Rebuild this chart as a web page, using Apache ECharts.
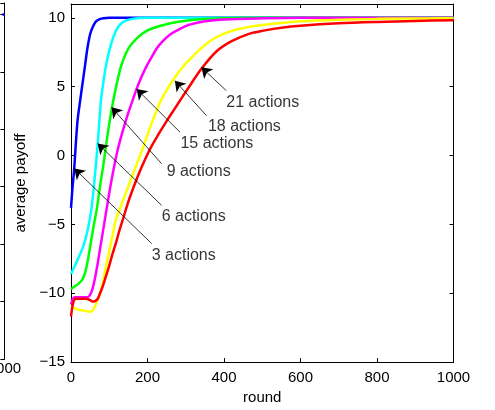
<!DOCTYPE html>
<html>
<head>
<meta charset="utf-8">
<script src="https://cdn.jsdelivr.net/npm/echarts@6.0.0/dist/echarts.min.js"></script>
<style>
  html, body { margin: 0; background: #fff; }
  #chart { width: 495px; height: 410px; }
</style>
</head>
<body>
<div id="chart"></div>
<script>
// rounds / average payoff, one pair of arrays per curve
const rounds3 = [0, 4, 8, 12, 17, 23, 30, 36, 43, 50, 58, 66, 75, 85, 100, 1000];
const payoff3 = [-3.8, -2.3, -1.1, 0.6, 2.5, 3.8, 5.2, 6.4, 7.8, 8.8, 9.4, 9.75, 9.9, 9.97, 10, 10];

const rounds6 = [0, 10, 20, 32, 42, 50, 56, 62, 70, 78, 85, 92, 100, 112, 125, 140, 160, 200, 300, 1000];
const payoff6 = [-8.6, -8.0, -7.4, -6.6, -5.6, -4.5, -3.3, -1.6, 0.9, 3.9, 5.4, 6.6, 7.6, 8.7, 9.4, 9.75, 9.92, 10, 10, 10];

const rounds9 = [0, 10, 20, 30, 38, 44, 52, 60, 68, 76, 84, 92, 100, 108, 118, 130, 145, 160, 187, 210, 260, 310, 400, 500, 1000];
const payoff9 = [-9.7, -9.5, -9.3, -9.0, -8.4, -7.6, -6.3, -5.0, -3.8, -2.2, -0.8, 0.8, 2.3, 3.6, 5.0, 6.4, 7.5, 8.15, 8.85, 9.2, 9.6, 9.82, 9.96, 10, 10];

const rounds15 = [0, 5, 10, 20, 30, 40, 48, 55, 62, 70, 77, 83, 90, 102, 112, 122, 135, 148, 161, 171, 185, 196, 210, 225, 240, 260, 285, 310, 350, 400, 500, 600, 1000];
const payoff15 = [-10.8, -10.4, -10.3, -10.3, -10.3, -10.3, -10.2, -9.8, -9.0, -7.8, -6.6, -5.6, -4.4, -2.4, -0.9, 0.4, 1.75, 2.95, 4.0, 4.8, 5.75, 6.4, 7.1, 7.8, 8.3, 8.8, 9.2, 9.5, 9.75, 9.88, 9.96, 10, 10];

const rounds18 = [0, 10, 20, 30, 40, 50, 58, 65, 72, 78, 85, 91, 98, 104, 111, 117, 130, 145, 160, 175, 190, 205, 220, 235, 250, 271, 290, 311, 335, 363, 395, 433, 494, 550, 600, 700, 800, 1000];
const payoff18 = [-10.9, -11.1, -11.2, -11.25, -11.3, -11.35, -11.2, -10.8, -10.3, -9.8, -9.0, -8.1, -7.2, -6.4, -5.5, -4.7, -3.7, -2.6, -1.5, -0.4, 0.7, 1.9, 3.0, 4.0, 4.75, 5.65, 6.35, 7.0, 7.65, 8.3, 8.8, 9.15, 9.45, 9.62, 9.74, 9.85, 9.92, 9.97];

const rounds21 = [0, 4, 8, 13, 25, 39, 50, 57, 64, 70, 76, 83, 91, 100, 108, 117, 126, 135, 150, 165, 180, 195, 210, 230, 250, 270, 290, 315, 341, 380, 420, 467, 500, 550, 600, 700, 800, 900, 1000];
const payoff21 = [-11.7, -10.9, -10.5, -10.4, -10.4, -10.4, -10.5, -10.6, -10.55, -10.4, -10.0, -9.5, -8.8, -8.0, -7.2, -6.4, -5.5, -4.7, -3.35, -2.2, -1.15, -0.2, 0.65, 1.6, 2.5, 3.35, 4.2, 5.25, 6.3, 7.55, 8.3, 8.85, 9.05, 9.27, 9.42, 9.6, 9.7, 9.77, 9.82];

// right end of the neighbouring panel (only its last rounds are in view)
const leftRounds = [980, 990, 1000];
const leftPayoff = [10, 10, 10];

const curveNames = ['3 actions', '6 actions', '9 actions', '15 actions', '18 actions', '21 actions'];
const curveColors = ['#0000ff', '#00ffff', '#00ff00', '#ff00ff', '#ffff00', '#ff0000'];

// annotation: text anchor (left edge), arrow tail, arrow tip — in round / payoff units
const labelAt = [[211, -7.3], [237, -4.47], [250, -1.2], [286, 0.87], [358, 2.08], [406, 3.86]];
const arrowTail = [[211, -6.4], [237, -3.62], [237, -0.6], [285, 1.69], [354, 2.9], [406, 4.71]];
const arrowTip = [[8.6, -0.94], [69.7, 0.87], [106, 3.5], [171.5, 4.83], [271.5, 5.43], [341, 6.4]];

const FONT = 'Liberation Sans, Arial, Helvetica, sans-serif';
const zip = (xs, ys) => xs.map((x, i) => [x, ys[i]]);
const minus = (v) => (v < 0 ? '\u2212' + Math.abs(v) : String(v));

const chart = echarts.init(document.getElementById('chart'), null, { renderer: 'canvas' });

const line = { onZero: false, lineStyle: { color: '#000', width: 1 } };
const tickIn = { show: true, inside: true, length: 4, lineStyle: { color: '#000', width: 1 } };
const noTick = { show: false };

const allRounds = [rounds3, rounds6, rounds9, rounds15, rounds18, rounds21];
const allPayoff = [payoff3, payoff6, payoff9, payoff15, payoff18, payoff21];

const curves = allRounds.map((xs, i) => ({
  name: curveNames[i],
  type: 'line',
  xAxisIndex: 0,
  yAxisIndex: 0,
  data: zip(xs, allPayoff[i]),
  showSymbol: false,
  smooth: 0.3,
  lineStyle: { color: curveColors[i], width: 2.5 },
  itemStyle: { color: curveColors[i] },
  silent: true,
}));

const option = {
  animation: false,
  textStyle: { fontFamily: FONT },
  grid: [
    { left: 71, right: 41.5, top: 4, bottom: 47.5 },
    // neighbouring panel: only its right border strip is on the page
    { left: 0, right: 491.5, top: 3, bottom: 51 },
  ],
  xAxis: [
    {
      gridIndex: 0, type: 'value', min: 0, max: 1000, interval: 200,
      axisLine: line, axisTick: tickIn, splitLine: { show: false },
      axisLabel: { color: '#000', fontSize: 15, margin: 8, fontFamily: FONT, formatter: (v) => String(v) },
      name: 'round', nameLocation: 'middle', nameGap: 25,
      nameTextStyle: { color: '#000', fontSize: 15, fontFamily: FONT },
    },
    {
      gridIndex: 0, type: 'value', position: 'top', min: 0, max: 1000, interval: 200,
      axisLine: line, axisTick: tickIn, axisLabel: { show: false }, splitLine: { show: false },
    },
    {
      gridIndex: 1, type: 'value', min: 991, max: 1000,
      axisLine: line, axisTick: noTick, splitLine: { show: false },
      axisLabel: {
        color: '#000', fontSize: 15, margin: 2, fontFamily: FONT,
        showMinLabel: false, showMaxLabel: true,
        formatter: (v) => (v === 1000 ? '1000' : ''),
      },
    },
    {
      gridIndex: 1, type: 'value', position: 'top', min: 991, max: 1000,
      axisLine: line, axisTick: noTick, axisLabel: { show: false }, splitLine: { show: false },
    },
  ],
  yAxis: [
    {
      gridIndex: 0, type: 'value', min: -15, max: 11, interval: 5,
      axisLine: line, axisTick: tickIn, splitLine: { show: false },
      axisLabel: { color: '#000', fontSize: 15, margin: 6, showMaxLabel: false, formatter: minus, fontFamily: FONT },
      name: 'average payoff', nameLocation: 'middle', nameGap: 38,
      nameTextStyle: { color: '#000', fontSize: 15, fontFamily: FONT },
    },
    {
      gridIndex: 0, type: 'value', position: 'right', min: -15, max: 11, interval: 5,
      axisLine: line, axisTick: tickIn, axisLabel: { show: false }, splitLine: { show: false },
    },
    {
      gridIndex: 1, type: 'value', position: 'right', min: -20, max: 11, interval: 5,
      axisLine: line, axisTick: tickIn, axisLabel: { show: false }, splitLine: { show: false },
    },
  ],
  series: [
    {
      type: 'line', xAxisIndex: 2, yAxisIndex: 2,
      data: zip(leftRounds, leftPayoff), showSymbol: false, silent: true,
      lineStyle: { color: '#0000ff', width: 2.5 },
    },
    ...curves,
    {
      name: 'labels',
      type: 'scatter', xAxisIndex: 0, yAxisIndex: 0,
      symbolSize: 0, silent: true, z: 10,
      data: labelAt.map((p, i) => ({ value: p, name: curveNames[i] })),
      label: {
        show: true, position: 'right', distance: 0, formatter: '{b}',
        color: '#000', fontSize: 16, fontFamily: FONT,
      },
      markLine: {
        silent: true, animation: false,
        symbol: ['none', 'arrow'], symbolSize: 10,
        label: { show: false },
        lineStyle: { color: '#000', width: 0.8, type: 'solid' },
        emphasis: { disabled: true },
        data: arrowTail.map((t, i) => [{ coord: t }, { coord: arrowTip[i] }]),
      },
    },
  ],
};

chart.setOption(option);
</script>
</body>
</html>
